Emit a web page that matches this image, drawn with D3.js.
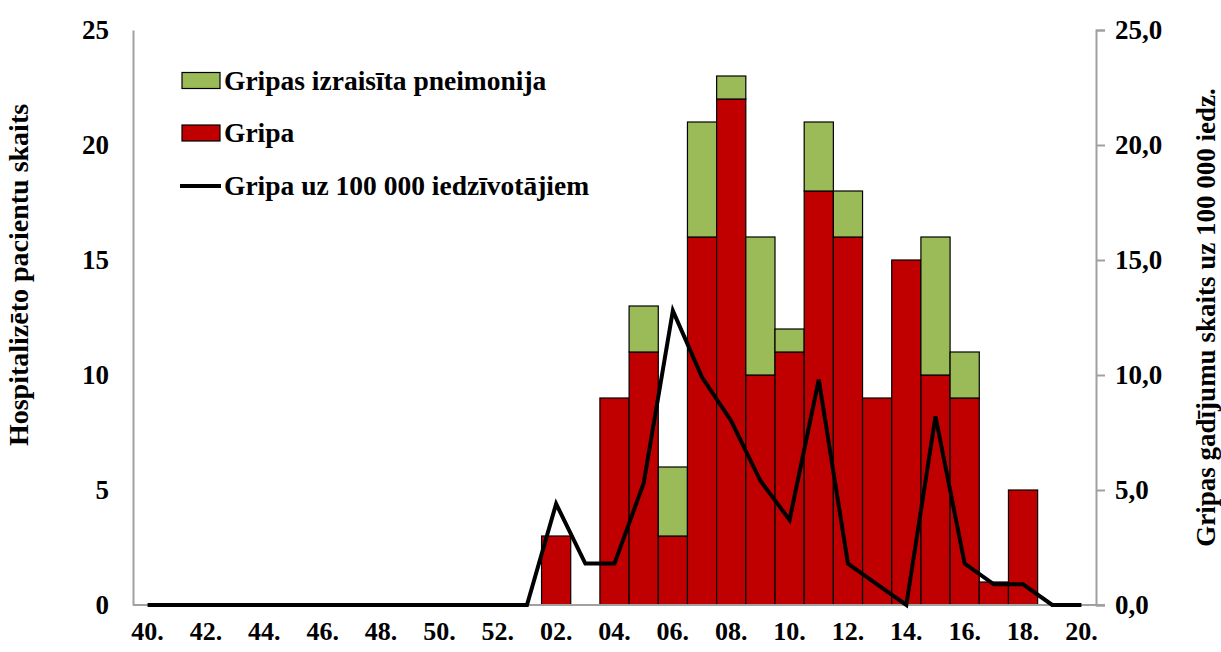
<!DOCTYPE html>
<html>
<head>
<meta charset="utf-8">
<script src="https://cdn.jsdelivr.net/npm/d3@7"></script>
<style>
  body { margin: 0; background: #fff; }
</style>
</head>
<body>
<svg id="chart" width="1221" height="652"></svg>
<script>
// ---- data ----
const weeks = ["40","41","42","43","44","45","46","47","48","49","50","51","52",
               "01","02","03","04","05","06","07","08","09","10","11","12","13","14","15","16","17","18","19","20"];
const tickWeeks = ["40","42","44","46","48","50","52","02","04","06","08","10","12","14","16","18","20"];
const gripa =     [0,0,0,0,0,0,0,0,0,0,0,0,0, 0,3,0,9,11,3,16,22,10,11,18,16,9,15,10,9,1,5,0,0];
const pneimonija= [0,0,0,0,0,0,0,0,0,0,0,0,0, 0,0,0,0,2,3,5,1,6,1,3,2,0,0,6,2,0,0,0,0];
const rate =      [0,0,0,0,0,0,0,0,0,0,0,0,0, 0,4.4,1.8,1.8,5.3,12.8,9.9,8.0,5.4,3.7,9.8,1.8,0.9,0,8.2,1.8,0.9,0.9,0,0];
const leftTicks = [0,5,10,15,20,25];
const rightTicks = [0,5,10,15,20,25];
const seriesNames = ["Gripas izraisīta pneimonija","Gripa","Gripa uz 100 000 iedzīvotājiem"];
const leftTitle = "Hospitalizēto pacientu skaits";
const rightTitle = "Gripas gadījumu skaits uz 100 000 iedz.";

// ---- layout ----
const FONT = "'Liberation Serif', 'Times New Roman', serif";
const svg = d3.select("#chart");
const L = 133, R = 1096, T = 30, B = 605;
const x = d3.scaleBand().domain(weeks).range([L, R]).paddingInner(0).paddingOuter(0);
const yL = d3.scaleLinear().domain([0, 25]).range([B, T]);
const yR = d3.scaleLinear().domain([0, 25]).range([B, T]);
const axisColor = "#a0a0a0";

function styleText(sel, size) {
  sel.style("font-family", FONT).style("font-weight", "bold").style("font-size", size + "px").attr("fill", "#000");
}

// bars
const stackData = weeks.map((w, i) => ({ w, g: gripa[i], p: pneimonija[i] }));
const gBars = svg.append("g");
stackData.forEach(d => {
  if (d.g > 0) {
    gBars.append("rect")
      .attr("x", x(d.w)).attr("width", x.bandwidth())
      .attr("y", yL(d.g)).attr("height", yL(0) - yL(d.g))
      .attr("fill", "#c00000").attr("stroke", "#000").attr("stroke-width", 1.2);
  }
  if (d.p > 0) {
    gBars.append("rect")
      .attr("x", x(d.w)).attr("width", x.bandwidth())
      .attr("y", yL(d.g + d.p)).attr("height", yL(d.g) - yL(d.g + d.p))
      .attr("fill", "#9bbb59").attr("stroke", "#000").attr("stroke-width", 1.2);
  }
});

// axes
const leftAxis = d3.axisLeft(yL).tickValues(leftTicks).tickSize(0).tickPadding(24).tickFormat(d3.format("d"));
const gl = svg.append("g").attr("transform", `translate(${L},0)`).call(leftAxis);
gl.select(".domain").attr("stroke", axisColor).attr("stroke-width", 2);
styleText(gl.selectAll("text"), 27);

const rightAxis = d3.axisRight(yR).tickValues(rightTicks).tickSizeInner(9).tickSizeOuter(9).tickPadding(10)
  .tickFormat(d => d3.format(".1f")(d).replace(".", ","));
const gr = svg.append("g").attr("transform", `translate(${R},0)`).call(rightAxis);
gr.select(".domain").attr("stroke", axisColor).attr("stroke-width", 2);
gr.selectAll(".tick line").attr("stroke", axisColor).attr("stroke-width", 2);
styleText(gr.selectAll("text"), 27);

const bottomAxis = d3.axisBottom(x).tickValues(tickWeeks).tickSize(0).tickPadding(17).tickFormat(d => d + ".");
const gb = svg.append("g").attr("transform", `translate(0,${B})`).call(bottomAxis);
gb.select(".domain").remove();
styleText(gb.selectAll("text"), 26);
svg.append("line").attr("x1", L).attr("x2", R + 9).attr("y1", B).attr("y2", B)
  .attr("stroke", axisColor).attr("stroke-width", 2);

// line
const line = d3.line().x((d, i) => x(weeks[i]) + x.bandwidth() / 2).y(d => yR(d));
svg.append("path").datum(rate).attr("d", line)
  .attr("fill", "none").attr("stroke", "#000").attr("stroke-width", 4).attr("stroke-linejoin", "miter");

// axis titles
styleText(svg.append("text").attr("transform", `translate(28,275) rotate(-90)`)
  .attr("text-anchor", "middle").text(leftTitle), 28);
styleText(svg.append("text").attr("transform", `translate(1215,${(T + B) / 2}) rotate(-90)`)
  .attr("text-anchor", "middle").text(rightTitle), 27);

// legend
const leg = svg.append("g");
const legY = [80.5, 133, 186];
leg.append("rect").attr("x", 182).attr("y", legY[0] - 8).attr("width", 38).attr("height", 16)
  .attr("fill", "#9bbb59").attr("stroke", "#000").attr("stroke-width", 1.2);
leg.append("rect").attr("x", 182).attr("y", legY[1] - 8).attr("width", 38).attr("height", 16)
  .attr("fill", "#c00000").attr("stroke", "#000").attr("stroke-width", 1.2);
leg.append("line").attr("x1", 180).attr("x2", 221).attr("y1", legY[2]).attr("y2", legY[2])
  .attr("stroke", "#000").attr("stroke-width", 4);
seriesNames.forEach((n, i) => {
  styleText(leg.append("text").attr("x", 224).attr("y", legY[i] + 9).text(n), 27.5);
});
</script>
</body>
</html>
